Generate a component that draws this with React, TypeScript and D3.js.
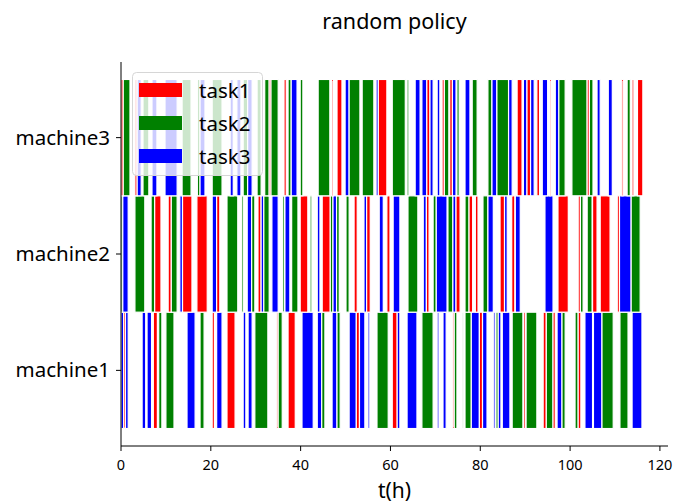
import * as d3 from 'd3';

const machines = ['machine1', 'machine2', 'machine3'];
const tasks = ['task1', 'task2', 'task3'];
const taskColors = ['#ff0000', '#008000', '#0000ff'];
const xTicks = [0, 20, 40, 60, 80, 100, 120];

// [start, end, task] in hours, task 1..3
type Job = [number, number, number];

const machine1Jobs: Job[] = [
  [0, 0.6, 3], [0.6, 1, 1], [1, 1.6, 3], [4.7, 5.5, 3], [5.8, 6.8, 3], [7.2, 8.1, 1], [8.4, 9.1, 2],
  [10, 11.8, 2], [14.7, 16.5, 3], [17.6, 18.5, 2], [20.3, 20.8, 1], [21.3, 22.5, 3], [23.6, 25.4, 1],
  [27.2, 27.8, 3], [28.3, 29.2, 3], [29.8, 32.7, 2], [34.7, 35, 1], [35, 35.9, 2], [37.2, 38.8, 1],
  [40.3, 42.8, 3], [43.7, 44.7, 3], [44.7, 45.4, 2], [47, 48.1, 3], [48.1, 48.8, 2], [50.8, 52.4, 3],
  [52.4, 53.1, 1], [53.1, 54.3, 3], [55, 55.4, 3], [57, 59.5, 2], [60.4, 61.5, 1], [61.5, 62.1, 3],
  [63.7, 65.9, 3], [67, 69.5, 2], [70.4, 70.8, 3], [71.7, 72.4, 3], [73.9, 74.2, 1], [74.2, 74.8, 2],
  [76, 76.3, 2], [76.6, 78, 2], [78, 79.8, 3], [79.8, 80.5, 1], [80.5, 81.5, 3], [82.9, 83.3, 3],
  [83.5, 84, 2], [84, 84.6, 3], [84.9, 86.6, 3], [87.1, 89.5, 2], [89.6, 90, 1], [90.2, 92.6, 2],
  [94, 94.7, 1], [94.7, 96.2, 2], [96.2, 96.7, 1], [97.1, 98.2, 3], [98.2, 98.9, 2], [101.1, 101.8, 2],
  [101.8, 102.4, 1], [103.3, 105, 3], [105.2, 107.1, 3], [107.1, 109.6, 2], [111.1, 112.9, 2],
  [113.8, 116, 3],
];

const machine2Jobs: Job[] = [
  [0, 0.4, 2], [0.4, 1.6, 3], [3.1, 5.3, 2], [6.7, 7.5, 2], [7.5, 8.9, 1], [10.5, 11.2, 1], [11.2, 12.5, 2],
  [13.1, 13.7, 3], [13.7, 15.8, 1], [16.9, 19.2, 1], [20.3, 21.3, 3], [21.3, 22, 1], [23.6, 26, 2],
  [26.8, 27.2, 2], [28.1, 29.1, 3], [29.1, 29.8, 2], [30.5, 31.2, 1], [31.2, 31.8, 3], [31.8, 33, 2],
  [33.6, 35, 3], [36, 36.4, 2], [36.5, 37.6, 3], [38, 39.4, 2], [39.9, 41.6, 1], [42.1, 42.5, 2],
  [43.7, 44.3, 3], [44.8, 46.6, 1], [46.6, 47.2, 2], [47.2, 48, 3], [48, 48.6, 2], [50.1, 50.8, 2],
  [51.9, 52.6, 1], [54.1, 54.7, 3], [54.7, 55.5, 1], [57.5, 58.4, 3], [59.2, 59.9, 1], [60.6, 62.1, 3],
  [63.9, 66.1, 2], [67.3, 68, 3], [68, 68.6, 1], [69.5, 70.2, 2], [70.2, 72.6, 3], [72.8, 73.9, 2],
  [73.9, 74.6, 3], [74.6, 75.5, 1], [76.6, 77.5, 2], [77.5, 78.3, 1], [78.9, 79.5, 1], [80.6, 81.7, 2],
  [81.7, 82.9, 3], [84.4, 85.4, 1], [85.4, 86, 3], [87, 87.7, 1], [87.8, 88.9, 3], [94.4, 96.2, 3],
  [97.3, 99.6, 1], [101.8, 102.3, 1], [102.3, 102.9, 2], [103.8, 104.9, 2], [105, 106, 1],
  [106.7, 108.9, 1], [110.5, 111, 1], [111, 113.6, 3], [113.6, 115.6, 2],
];

const machine3Jobs: Job[] = [
  [0, 0.5, 1], [0.5, 2, 2], [3.1, 3.6, 1], [3.6, 4.5, 3], [4.9, 6.2, 2], [6.9, 8, 3], [9.8, 12.5, 3],
  [13.6, 15.6, 2], [17, 17.6, 2], [17.6, 18.7, 3], [20.3, 22.5, 2], [24.3, 25, 3], [25.8, 26.7, 3],
  [27.2, 28.2, 2], [28.2, 29.2, 3], [30.3, 31.2, 2], [32, 33, 2], [33, 33.4, 1], [33.4, 35, 2],
  [36.3, 36.8, 1], [37.2, 37.9, 2], [37.9, 39.2, 3], [39.9, 40.5, 2], [43.9, 46.5, 2], [47, 47.3, 1],
  [48.1, 49.2, 1], [49.9, 50.8, 3], [50.8, 53.2, 2], [53.7, 56.3, 2], [56.8, 57.3, 3], [57.3, 59.2, 1],
  [60.4, 63.3, 2], [63.7, 64.1, 2], [65.5, 66.6, 3], [67, 68.1, 3], [68.1, 68.8, 1], [68.8, 69.5, 3],
  [70.4, 71, 3], [71.5, 72, 1], [72, 73, 2], [73.2, 73.8, 1], [73.8, 74.6, 3], [74.8, 75.3, 2],
  [76.6, 77.7, 3], [78.2, 79.3, 2], [81.7, 82.6, 2], [82.6, 83.7, 3], [83.7, 86.3, 2], [86.3, 87.1, 3],
  [88.2, 89.3, 1], [89.6, 90.4, 3], [90.4, 91.2, 1], [91.2, 92, 3], [92.6, 93.2, 1], [93.8, 95, 3],
  [95.4, 95.7, 1], [96.7, 97.5, 3], [97.5, 98.9, 2], [100.4, 103.8, 2], [103.8, 104.3, 1],
  [104.3, 105.1, 2], [106, 106.7, 3], [108.5, 109.4, 3], [111.5, 111.8, 1], [112.7, 113.4, 2],
  [113.8, 114.2, 1], [115, 116.2, 1],
];

const schedule = [machine1Jobs, machine2Jobs, machine3Jobs];

const font = '"Noto Sans", "DejaVu Sans", sans-serif';

export default function App() {
  const width = 674;
  const height = 504;
  const left = 121, right = 668, top = 62, bottom = 446;

  const x = d3.scaleLinear().domain([0, 121.8]).range([left, right]);
  const y = d3.scaleLinear().domain([0.35, 3.65]).range([bottom, top]);

  return (
    <svg width={width} height={height} style={{ position: 'absolute', left: 0, top: 0, background: '#fff' }}>
      {/* bars */}
      {schedule.map((jobs, mi) => (
        <g key={mi}>
          {jobs.map((d, i) => (
            <rect
              key={i}
              x={x(d[0])}
              y={y(mi + 1.5)}
              width={x(d[1]) - x(d[0])}
              height={y(mi + 0.5) - y(mi + 1.5)}
              fill={taskColors[d[2] - 1]}
              stroke="#fff"
              strokeWidth={1.2}
            />
          ))}
        </g>
      ))}

      {/* spines */}
      <line x1={left} x2={left} y1={top} y2={bottom} stroke="#000" strokeWidth={1} />
      <line x1={left} x2={right} y1={bottom} y2={bottom} stroke="#000" strokeWidth={1} />

      {/* x ticks */}
      {xTicks.map(t => (
        <g key={t} transform={`translate(${x(t)},${bottom})`}>
          <line y1={0} y2={5} stroke="#000" strokeWidth={1} />
          <text y={24} textAnchor="middle" fontFamily={font} fontSize={14.5} fill="#000">{t}</text>
        </g>
      ))}

      {/* y ticks */}
      {machines.map((m, i) => (
        <g key={m} transform={`translate(${left},${y(i + 1)})`}>
          <line x1={0} x2={-5} stroke="#000" strokeWidth={1} />
          <text x={-11} y={7} textAnchor="end" fontFamily={font} fontSize={20.5} fill="#000">{m}</text>
        </g>
      ))}

      {/* labels */}
      <text x={(left + right) / 2} y={29} textAnchor="middle" fontFamily={font} fontSize={21.5} fill="#000">random policy</text>
      <text x={(left + right) / 2} y={498} textAnchor="middle" fontFamily={font} fontSize={21} fill="#000">t(h)</text>

      {/* legend */}
      <g>
        <rect x={132.5} y={72.5} width={130} height={103} rx={4} fill="#fff" fillOpacity={0.8} stroke="#d6d6d6" strokeWidth={1} />
        {tasks.map((t, i) => (
          <g key={t} transform={`translate(139,${83 + i * 33})`}>
            <rect x={0} y={0} width={43} height={14} fill={taskColors[i]} />
            <text x={60} y={14.5} fontFamily={font} fontSize={20.5} fill="#000">{t}</text>
          </g>
        ))}
      </g>
    </svg>
  );
}
